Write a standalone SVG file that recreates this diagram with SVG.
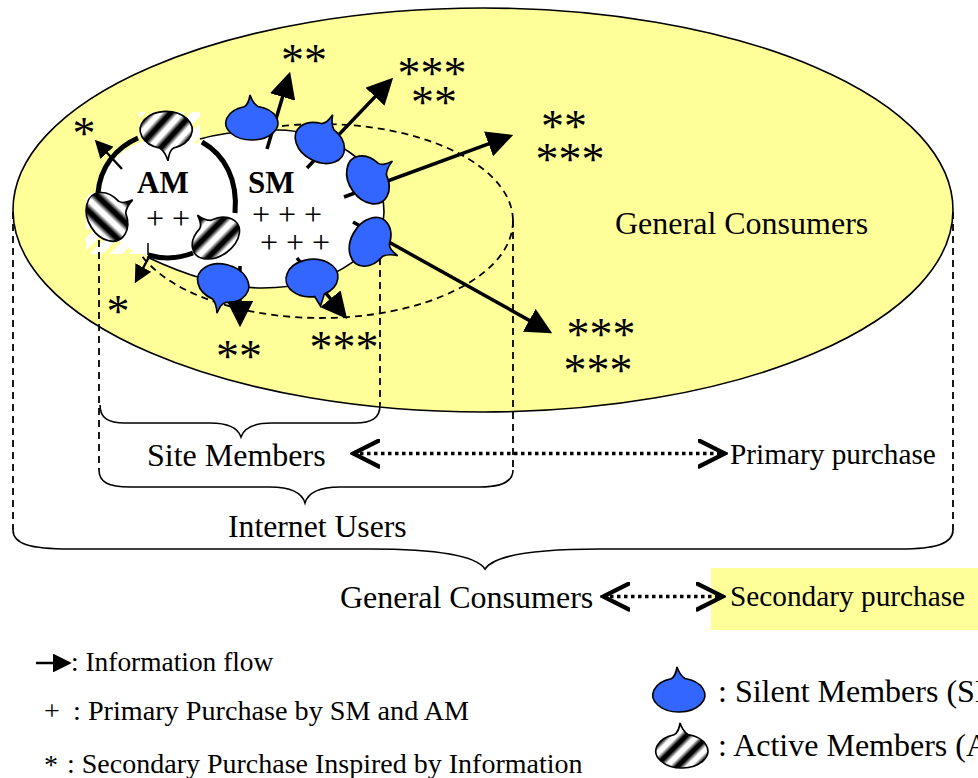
<svg xmlns="http://www.w3.org/2000/svg" width="978" height="778" viewBox="0 0 978 778">
<style>
text{font-family:"Liberation Serif","Times New Roman",serif;fill:#000}
.big{font-size:32px}.mid{font-size:29.3px}.leg{font-size:28px}.star{font-size:46px;text-anchor:middle}.plus{font-size:32px;text-anchor:middle}.bold{font-size:31px;font-weight:bold}
.dash{fill:none;stroke:#000;stroke-width:1.8;stroke-dasharray:7 5}
.brace{fill:none;stroke:#000;stroke-width:1.6}
.am{fill:none;stroke:#000;stroke-width:5}
.arrow{fill:none;stroke:#000;stroke-width:3.5;marker-end:url(#head)}
.thin{stroke-width:2.4}
.dbl{fill:none;stroke:#000;stroke-width:3.5;stroke-dasharray:3.5 3.5;marker-start:url(#chev);marker-end:url(#chev)}
.s{fill:#3366ff;stroke:#000;stroke-width:1.6}
.a{fill:url(#stripe);stroke:#000;stroke-width:1.6}
</style>
<defs>
<linearGradient id="stripe" gradientUnits="userSpaceOnUse" x1="0" y1="0" x2="11" y2="11" spreadMethod="repeat">
<stop offset=".12" stop-color="#fff"/><stop offset=".4" stop-color="#000"/><stop offset=".6" stop-color="#000"/><stop offset=".88" stop-color="#fff"/>
</linearGradient>
<linearGradient id="stripe2" href="#stripe" gradientTransform="rotate(30)"/>
<linearGradient id="stripe3" href="#stripe" gradientTransform="rotate(35)"/>
<pattern id="hatch" width="14" height="14" patternUnits="userSpaceOnUse" patternTransform="rotate(45)">
<rect width="14" height="14" fill="#fff"/><rect width="5" height="14" fill="#ffff99"/>
</pattern>
<marker id="head" viewBox="0 0 10 10" refX="8" refY="5" markerWidth="7.5" markerHeight="7.5" orient="auto" markerUnits="strokeWidth"><path d="M0,0L10,5L0,10Z" fill="#000"/></marker>
<marker id="chev" viewBox="0 0 30 30" refX="27" refY="15" markerWidth="30" markerHeight="30" orient="auto-start-reverse" markerUnits="userSpaceOnUse"><path d="M1,2L27,15L1,28" fill="none" stroke="#000" stroke-width="4.2" stroke-linecap="round"/></marker>
<path id="b" d="M-8,-16.2C-4,-18 -3,-22 -2,-28C0,-22 2,-19 6,-16.5A26,17 0 1 1 -8,-16.2Z"/>
<path id="b5" d="M-11,-15.4L-6,-26L-1,-17A26,17 0 1 1 -11,-15.4Z"/>
</defs>

<g id="general-consumers-area">
<ellipse cx="483" cy="210" rx="470" ry="202" fill="#ffff99" stroke="#000" stroke-width="1.6"/>
</g>
<rect id="secondary-highlight" x="711" y="568" width="267" height="62" fill="#ffff99"/>
<g id="internet-users-area"><ellipse cx="321" cy="221" rx="192" ry="97" class="dash"/></g>
<g id="hatch-backs">
<rect x="139" y="112" width="61" height="32" fill="url(#hatch)"/>
<rect x="86" y="193" width="62" height="61" fill="url(#hatch)"/>
</g>
<g id="sm-area">
<path d="M200,139C225,132 250,130 277,130C325,130 384,160 384,212C384,245 340,288 262,288C225,288 185,275 147,257" fill="#fff" stroke="#000" stroke-width="1.6"/>
</g>
<g id="am-area">
<ellipse cx="167" cy="198" rx="69" ry="60" fill="#fff"/>
<path class="am" d="M138,138C115,148 100,168 98,193"/>
<path class="am" d="M202,142C225,155 238,180 235,213"/>
<path class="am" d="M148,255C165,260 180,258 193,253"/>
</g>

<g id="dashed-guides">
<path class="dash" d="M99,240V470"/>
<path class="dash" d="M380,258V405"/>
<path class="dash" d="M513,220V470"/>
<path class="dash" d="M13,212V530"/>
<path class="dash" d="M953,212V530"/>
</g>
<g id="connectors">
<path class="arrow" d="M267,149L288.6,76.8"/>
<path class="arrow" d="M307,168L389.5,81.6"/>
<path class="arrow" d="M344,197L508.3,136.7"/>
<path class="arrow" d="M353,222L547.6,330.6"/>
<path class="arrow" d="M297,258L343.8,315"/>
<path class="arrow" d="M240,266L240,322"/>
<path class="arrow thin" d="M122,169L97.2,142.3"/>
<path class="arrow thin" d="M149,257L136.5,280.2"/>
<path d="M148,243V255" fill="none" stroke="#000" stroke-width="1.5"/>
<path class="brace" d="M100,405C100,418 108,423 125,423H210C228,423 238,428 241,437C244,428 254,423 272,423H355C372,423 380,418 380,405"/>
<path class="brace" d="M99,470C99,482 108,487 130,487H270C290,487 302,493 305,503C308,493 320,487 340,487H480C502,487 513,482 513,470"/>
<path class="brace" d="M13,530C13,544 30,549 70,549H370C430,549 475,554 485,569C495,554 540,549 600,549H900C935,549 953,544 953,530"/>
<path class="dbl" d="M353,453.5H725"/>
<path class="dbl" d="M603,596.5H723"/>
<path class="arrow" style="stroke-width:2.5" d="M36,663H68"/>
</g>

<g id="am1"><use href="#b" class="a" transform="translate(166,130) rotate(180) scale(1,1.1)"/></g>
<g id="am2"><use href="#b" class="a" style="fill:url(#stripe2)" transform="translate(107,217) rotate(60) scale(1,1.1)"/></g>
<g id="am3"><use href="#b" class="a" style="fill:url(#stripe3)" transform="translate(216,238) rotate(-35) scale(1,1.05)"/></g>
<g id="sm1"><use href="#b" class="s" transform="translate(252,123)"/></g>
<g id="sm2"><use href="#b" class="s" transform="translate(320,143) rotate(28) scale(1,1.1)"/></g>
<g id="sm3"><use href="#b" class="s" transform="translate(368,180) rotate(56) scale(1,1.1)"/></g>
<g id="sm4"><use href="#b" class="s" transform="translate(370,242) rotate(120) scale(1,1.1)"/></g>
<g id="sm5"><use href="#b5" class="s" transform="translate(312,278) rotate(175) scale(1,1.1)"/></g>
<g id="sm6"><use href="#b" class="s" transform="translate(223,283) rotate(195) scale(1,1.1)"/></g>
<g id="legend-silent"><use href="#b" class="s" transform="translate(679,695)"/></g>
<g id="legend-active"><use href="#b" class="a" transform="translate(682,751)"/></g>

<g id="labels">
<text class="bold" x="137" y="193">AM</text>
<text class="bold" x="248" y="193">SM</text>
<text class="plus" x="168" y="229">+ +</text>
<text class="plus" x="287" y="225">+ + +</text>
<text class="plus" x="295" y="253">+ + +</text>
<text class="star" x="304" y="76">**</text>
<text class="star" x="432" y="89">***</text>
<text class="star" x="434" y="118">**</text>
<text class="star" x="564" y="142">**</text>
<text class="star" x="570" y="175">***</text>
<text class="star" x="601" y="350">***</text>
<text class="star" x="598" y="386">***</text>
<text class="star" x="344" y="363">***</text>
<text class="star" x="239" y="372">**</text>
<text class="star" x="118" y="327">*</text>
<text class="star" x="84" y="149">*</text>
<text class="big" x="615" y="234">General Consumers</text>
<text class="big" x="147" y="466">Site Members</text>
<text class="big" x="228" y="537" style="font-size:31.7px">Internet Users</text>
<text class="big" x="340" y="608">General Consumers</text>
<text class="mid" x="730" y="464">Primary purchase</text>
<text class="mid" x="730" y="606">Secondary purchase</text>
<text class="leg" x="71" y="671" style="font-size:27.4px">: Information flow</text>
<text class="leg" x="44" y="720">+</text>
<text class="leg" x="73" y="720" style="font-size:28.2px">: Primary Purchase by SM and AM</text>
<text class="leg" x="44" y="774">*</text>
<text class="leg" x="67" y="773">: Secondary Purchase Inspired by Information</text>
<text class="big" x="718" y="702">: Silent Members (SM)</text>
<text class="big" x="718" y="756">: Active Members (AM)</text>
</g>
</svg>
